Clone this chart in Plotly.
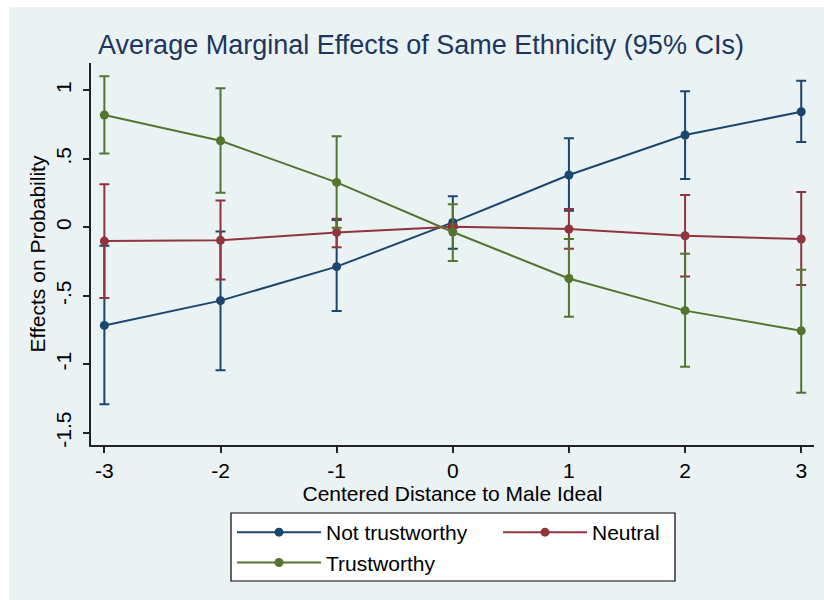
import plotly.graph_objects as go

x_vals = [-3, -2, -1, 0, 1, 2, 3]

not_trust = [-0.716, -0.535, -0.287, 0.036, 0.382, 0.674, 0.844]
not_trust_hi = [-0.134, -0.030, 0.053, 0.228, 0.650, 0.993, 1.070]
not_trust_lo = [-1.292, -1.044, -0.611, -0.156, 0.121, 0.353, 0.623]

neutral = [-0.100, -0.095, -0.037, 0.005, -0.012, -0.061, -0.085]
neutral_hi = [0.314, 0.197, 0.063, 0.015, 0.134, 0.236, 0.258]
neutral_lo = [-0.516, -0.380, -0.146, -0.005, -0.156, -0.358, -0.421]

trust = [0.820, 0.632, 0.328, -0.034, -0.373, -0.608, -0.755]
trust_hi = [1.104, 1.015, 0.666, 0.168, -0.085, -0.193, -0.309]
trust_lo = [0.540, 0.253, -0.003, -0.246, -0.652, -1.017, -1.207]

y_tickvals = [-1.5, -1, -0.5, 0, 0.5, 1]
y_ticktext = ["-1.5", "-1", "-.5", "0", ".5", "1"]
x_ticktext = ["-3", "-2", "-1", "0", "1", "2", "3"]

series = [
    ("Not trustworthy", not_trust, not_trust_hi, not_trust_lo, "#1a476f", "legend"),
    ("Neutral", neutral, neutral_hi, neutral_lo, "#90353b", "legend2"),
    ("Trustworthy", trust, trust_hi, trust_lo, "#55752f", "legend"),
]

FONT = "Liberation Sans, Arial, sans-serif"
BG = "#eaf2f3"

fig = go.Figure()
for name, y, hi, lo, col, leg in series:
    fig.add_trace(go.Scatter(
        x=x_vals, y=y, name=name, mode="lines+markers", legend=leg,
        line=dict(color=col, width=2),
        marker=dict(color=col, size=9),
        error_y=dict(type="data", symmetric=False,
                     array=[h - v for h, v in zip(hi, y)],
                     arrayminus=[v - l for v, l in zip(y, lo)],
                     color=col, thickness=2, width=5),
    ))

L, R, T, B = 91, 10, 63, 155
W, H = 824, 600
pw, ph = W - L - R, H - T - B

def px_x(p):
    return (p - L) / pw

def px_y(q):
    return (H - B - q) / ph

fig.add_shape(type="rect", xref="paper", yref="paper",
              x0=px_x(9), x1=px_x(830), y0=px_y(605), y1=px_y(7),
              fillcolor=BG, line=dict(width=0), layer="below")
# legend frame
fig.add_shape(type="rect", xref="paper", yref="paper",
              x0=px_x(231), x1=px_x(675), y0=px_y(581), y1=px_y(513),
              fillcolor="white", line=dict(width=1.2, color="black"),
              layer="below")

leg_common = dict(orientation="v", xanchor="left", yanchor="top",
                  bgcolor="rgba(0,0,0,0)", borderwidth=0,
                  font=dict(family=FONT, size=21, color="black"),
                  traceorder="normal", itemwidth=84)

fig.update_layout(
    width=W, height=H,
    margin=dict(l=L, r=R, t=T, b=B, autoexpand=False),
    paper_bgcolor="white",
    plot_bgcolor="white",
    font=dict(family=FONT, size=21, color="black"),
    title=dict(text="Average Marginal Effects of Same Ethnicity (95% CIs)",
               x=421 / W, xanchor="center", y=1 - 45 / H, yanchor="middle",
               xref="container", yref="container",
               font=dict(family=FONT, size=27, color="#1e3560")),
    showlegend=True,
    legend=dict(x=px_x(232), y=px_y(512), **leg_common),
    legend2=dict(x=px_x(498), y=px_y(512), **leg_common),
    xaxis=dict(range=[-3.115, 3.11], tickvals=x_vals, ticktext=x_ticktext,
               showgrid=False, zeroline=False,
               showline=True, linecolor="#222", linewidth=1.5,
               ticks="outside", ticklen=6, tickcolor="#222", tickwidth=1.5,
               tickfont=dict(size=21),
               title=dict(text="Centered Distance to Male Ideal",
                          font=dict(size=21), standoff=2)),
    yaxis=dict(range=[-1.589, 1.2], tickvals=y_tickvals, ticktext=y_ticktext,
               tickangle=-90, ticklabelstandoff=4,
               showgrid=True, gridcolor=BG, gridwidth=2, zeroline=False,
               showline=True, linecolor="#222", linewidth=1.5,
               ticks="outside", ticklen=6, tickcolor="#222", tickwidth=1.5,
               tickfont=dict(size=21),
               title=dict(text="Effects on Probability",
                          font=dict(size=21), standoff=0)),
)

fig.write_html("out.html")
